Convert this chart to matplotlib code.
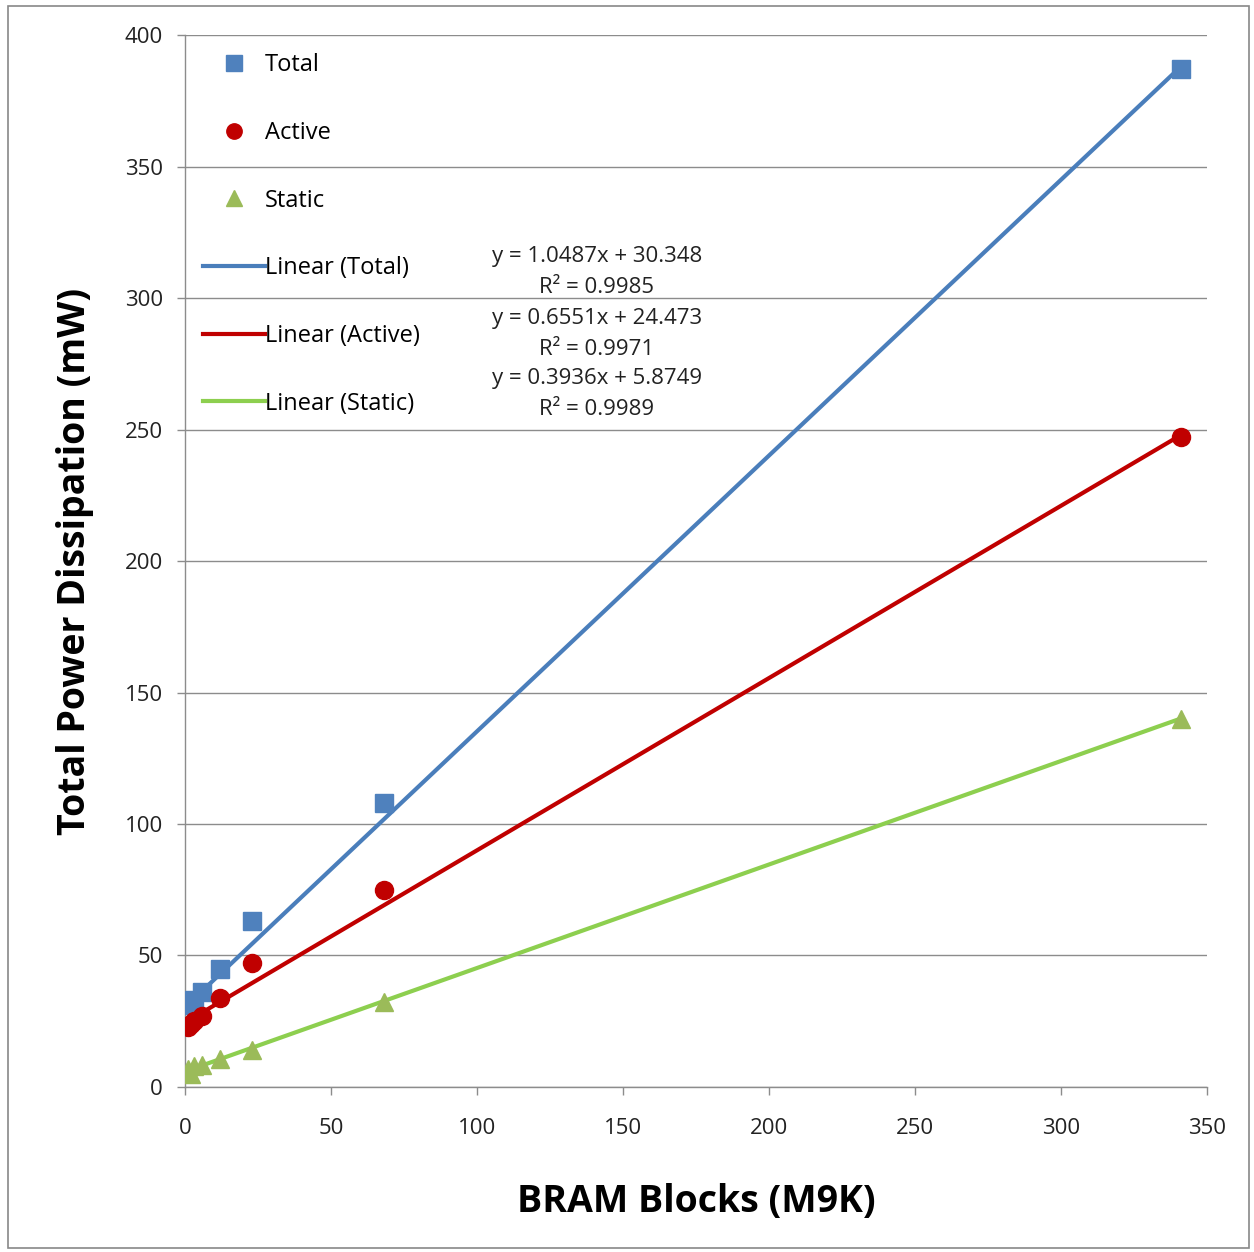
import numpy as np
import matplotlib
matplotlib.use("Agg")
from matplotlib import pyplot as plt
from matplotlib.patches import Rectangle

plt.rcParams['font.family'] = ['Open Sans', 'DejaVu Sans']

# BRAM blocks (M9K) and measured power (mW)
bram = np.array([1, 2, 3, 6, 12, 23, 68, 341])
total = np.array([31, 32, 33, 36, 45, 63, 108, 387])
active = np.array([23, 24, 25, 27, 34, 47, 75, 247])
static = np.array([7, 5, 8, 8.5, 10.5, 14, 32.5, 140])

# trendline coefficients shown on the chart
slopes = [1.0487, 0.6551, 0.3936]
intercepts = [30.348, 24.473, 5.8749]
r2 = [0.9985, 0.9971, 0.9989]
names = ["Total", "Active", "Static"]

marker_colors = ['#4F81BD', '#C00000', '#9BBB59']
line_colors = ['#4A7EBB', '#C00000', '#8DCF4F']
markers = ['s', 'o', '^']

fig = plt.figure(figsize=(12.54, 12.52), dpi=100)
fig.patches.append(Rectangle((0.006, 0.003), 0.99, 0.992, transform=fig.transFigure,
                             fill=False, edgecolor='#888888', linewidth=1.2))
ax = fig.add_axes([0.1475, 0.1318, 0.815, 0.8402])

series = [total, active, static]
pts = []
for i, y in enumerate(series):
    h, = ax.plot(bram, y, linestyle='none', marker=markers[i], markersize=13,
                 color=marker_colors[i], label=names[i], zorder=4)
    pts.append(h)

lines = []
xs = np.array([bram.min(), bram.max()])
for i in range(3):
    h, = ax.plot(xs, slopes[i] * xs + intercepts[i], color=line_colors[i], linewidth=3,
                 label=f"Linear ({names[i]})", zorder=3)
    lines.append(h)

eq_y = [310, 286.3, 263.5]
for i in range(3):
    ax.text(141, eq_y[i], f"y = {slopes[i]}x + {intercepts[i]}\nR² = {r2[i]}",
            ha='center', va='center', multialignment='center', fontsize=16,
            linespacing=1.6, color='#222222')

ax.set_xlim(0, 350)
ax.set_ylim(0, 400)
ax.set_xticks(np.arange(0, 351, 50))
ax.set_yticks(np.arange(0, 401, 50))
ax.yaxis.grid(True, color='#8c8c8c', linewidth=1)
ax.set_axisbelow(True)
for s in ['top', 'right']:
    ax.spines[s].set_visible(False)
for s in ['left', 'bottom']:
    ax.spines[s].set_color('#8c8c8c')
    ax.spines[s].set_linewidth(1)
ax.tick_params(axis='both', colors='#8c8c8c', labelcolor='#222222', labelsize=16,
               length=6, width=1)
ax.tick_params(axis='x', pad=16)
ax.tick_params(axis='y', pad=10)

ax.set_xlabel("BRAM Blocks (M9K)", fontsize=27, fontweight='bold', labelpad=32)
ax.set_ylabel("Total Power Dissipation (mW)", fontsize=27, fontweight='bold', labelpad=22)

ax.legend(pts + lines, [h.get_label() for h in pts + lines], loc='upper left',
          bbox_to_anchor=(-0.003, 1.003), frameon=False, fontsize=17, labelspacing=1.85,
          handlelength=2.6, handletextpad=0.0, markerscale=0.85)

plt.savefig("out.png", dpi=100)
